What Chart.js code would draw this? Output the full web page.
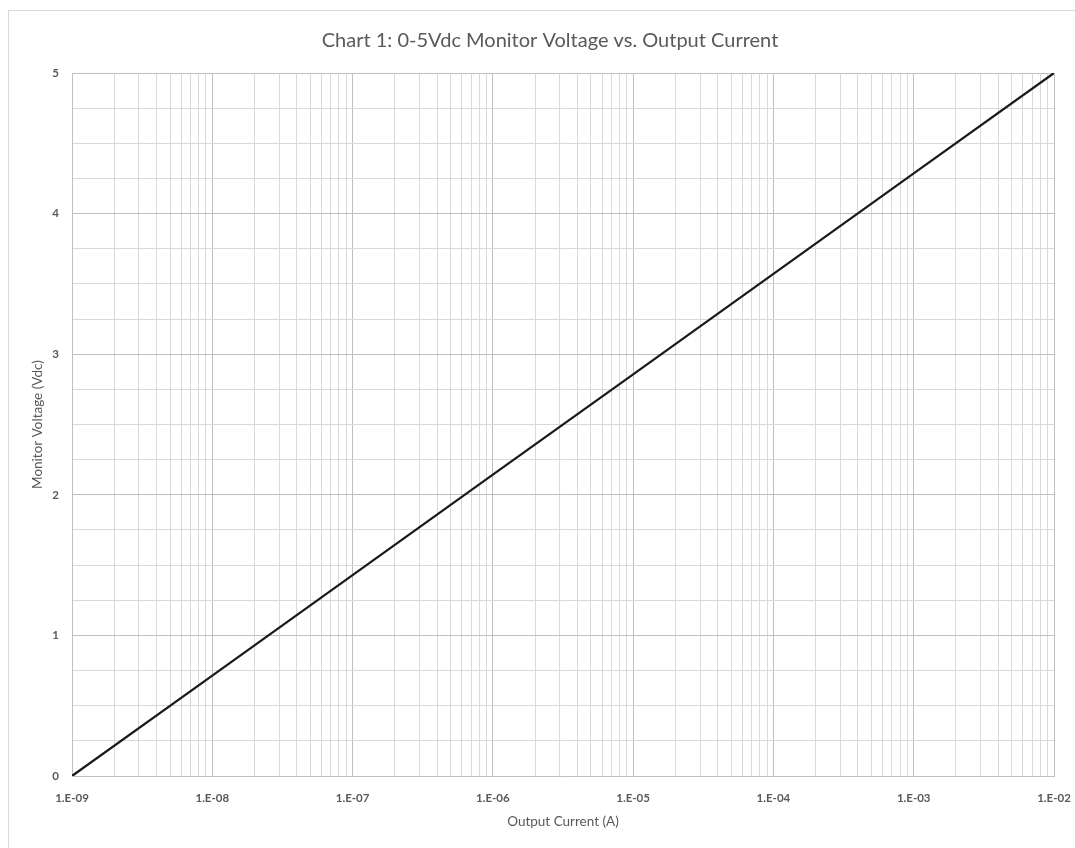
<!DOCTYPE html>
<html>
<head>
<meta charset="utf-8">
<title>Chart 1: 0-5Vdc Monitor Voltage vs. Output Current</title>
<script src="https://cdn.jsdelivr.net/npm/chart.js@4.4.1/dist/chart.umd.min.js"></script>
<style>
    body { margin: 0; background: #ffffff; }
    #frame {
        position: absolute; left: 8px; top: 10px; right: 0; bottom: 0;
        border-left: 1px solid #d9d9d9; border-top: 1px solid #d9d9d9;
    }
    #chart { position: absolute; left: 0; top: 0; }
</style>
</head>
<body>
<div id="frame"></div>
<canvas id="chart" width="1075" height="848"></canvas>
<script>
// Data
const currentA = [1e-9, 1e-8, 1e-7, 1e-6, 1e-5, 1e-4, 1e-3, 1e-2];
const voltageV = [0, 0.714, 1.429, 2.143, 2.857, 3.571, 4.286, 5];

// Axis ticks
const xDecades = [1e-9, 1e-8, 1e-7, 1e-6, 1e-5, 1e-4, 1e-3, 1e-2];
const xTickLabels = ['1.E-09', '1.E-08', '1.E-07', '1.E-06', '1.E-05', '1.E-04', '1.E-03', '1.E-02'];
const xMinorSteps = [1, 2, 3, 4, 5, 6, 7, 8, 9];
const yTickLabels = ['0', '1', '2', '3', '4', '5'];
const yMinorSteps = [0, 0.25, 0.5, 0.75];

const textColor = '#595959';
const majorGrid = '#bfbfbf';
const minorGrid = '#d9d9d9';
const fontFamily = 'Lato, "Open Sans", sans-serif';

document.addEventListener('DOMContentLoaded', function() {
    initChart();
});

function buildXTicks() {
    const ticks = [];
    xDecades.forEach(function(d, i) {
        if (i === xDecades.length - 1) {
            ticks.push({ value: d, major: true, decade: i });
            return;
        }
        xMinorSteps.forEach(function(m) {
            ticks.push({ value: d * m, major: m === 1, decade: i });
        });
    });
    return ticks;
}

function buildYTicks() {
    const ticks = [];
    yTickLabels.forEach(function(lbl, i) {
        if (i === yTickLabels.length - 1) {
            ticks.push({ value: i, major: true, idx: i });
            return;
        }
        yMinorSteps.forEach(function(s) {
            ticks.push({ value: i + s, major: s === 0, idx: i });
        });
    });
    return ticks;
}

function initChart() {
    const ctx = document.getElementById('chart').getContext('2d');
    const points = currentA.map((x, i) => ({ x: x, y: voltageV[i] }));

    new Chart(ctx, {
        type: 'line',
        data: {
            datasets: [{
                label: 'Monitor Voltage',
                data: points,
                borderColor: '#1a1a1a',
                borderWidth: 2.25,
                pointRadius: 0,
                tension: 0,
                fill: false
            }]
        },
        options: {
            responsive: false,
            animation: false,
            layout: {
                // left pad shifts the title centre to match the original
                padding: { left: 46, top: 0, right: 21, bottom: 0 }
            },
            scales: {
                x: {
                    type: 'logarithmic',
                    min: 1e-9,
                    max: 1e-2,
                    afterBuildTicks: function(scale) { scale.ticks = buildXTicks(); },
                    afterFit: function(scale) {
                        scale.height = 72;
                        // don't let the end labels push the plot area in
                        scale.paddingLeft = 0;
                        scale.paddingRight = 0;
                    },
                    grid: {
                        drawTicks: false,
                        color: function(c) { return c.tick && c.tick.major ? majorGrid : minorGrid; },
                        lineWidth: 1
                    },
                    border: { color: majorGrid, width: 1 },
                    ticks: {
                        autoSkip: false,
                        maxRotation: 0,
                        padding: 15,
                        color: textColor,
                        font: { family: fontFamily, size: 11.5, weight: 'bold' },
                        callback: function(value, index, ticks) {
                            const t = ticks[index];
                            return t.major ? xTickLabels[t.decade] : '';
                        }
                    },
                    title: {
                        display: true,
                        text: 'Output Current (A)',
                        color: textColor,
                        font: { family: fontFamily, size: 13.5 },
                        padding: { top: 0, bottom: 18 }
                    }
                },
                y: {
                    type: 'linear',
                    min: 0,
                    max: 5,
                    afterBuildTicks: function(scale) { scale.ticks = buildYTicks(); },
                    afterFit: function(scale) { scale.width = 26; },
                    grid: {
                        drawTicks: false,
                        color: function(c) { return c.tick && c.tick.major ? majorGrid : minorGrid; },
                        lineWidth: 1
                    },
                    border: { color: majorGrid, width: 1 },
                    ticks: {
                        autoSkip: false,
                        padding: 13,
                        color: textColor,
                        font: { family: fontFamily, size: 11.5, weight: 'bold' },
                        callback: function(value, index, ticks) {
                            const t = ticks[index];
                            return t.major ? yTickLabels[t.idx] : '';
                        }
                    },
                    title: {
                        display: true,
                        text: 'Monitor Voltage (Vdc)',
                        color: textColor,
                        font: { family: fontFamily, size: 13.5 },
                        padding: { top: -16, bottom: 0 }
                    }
                }
            },
            plugins: {
                legend: { display: false },
                tooltip: { enabled: false },
                title: {
                    display: true,
                    text: 'Chart 1: 0-5Vdc Monitor Voltage vs. Output Current',
                    color: textColor,
                    font: { family: fontFamily, size: 20, weight: 'normal' },
                    padding: { top: 29, bottom: 20 }
                }
            }
        }
    });
}
</script>
</body>
</html>
